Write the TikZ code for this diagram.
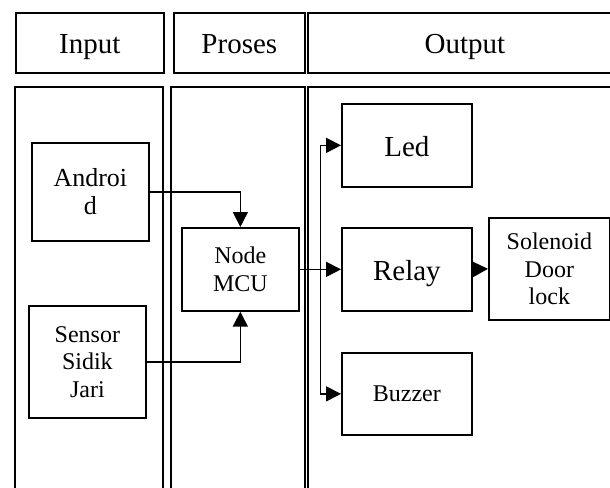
\documentclass[tikz,border=0pt]{standalone}
\usepackage{fontspec}
\setmainfont{Liberation Serif}
\usetikzlibrary{arrows.meta,calc}
\begin{document}
\begin{tikzpicture}[x=1pt,y=-1pt,
  box/.style={draw, line width=1.7pt, inner sep=0pt, anchor=north west, align=center},
  big/.style={font=\fontsize{29}{33}\selectfont, text height=22pt, text depth=0pt},
  mid/.style={font=\fontsize{26}{28.5}\selectfont},
  small/.style={font=\fontsize{24}{27.5}\selectfont},
  link/.style={line width=1.7pt, -{Triangle[length=15pt,width=15pt]}}]
\useasboundingbox (0,0) rectangle (610,487);
\clip (0,0) rectangle (610,487);

% column headings
\node[box,big,minimum width=148,minimum height=60] (hin)  at (15,12)  {Input};
\node[box,big,minimum width=131,minimum height=60] (hpr)  at (173,12) {Proses};
\node[box,big,minimum width=314,minimum height=60] (hout) at (307,12) {Output};

% column frames
\node[box,minimum width=148,minimum height=420] (cin)  at (14,86)  {};
\node[box,minimum width=134,minimum height=420] (cpr)  at (170,86) {};
\node[box,minimum width=314,minimum height=420] (cout) at (307,86) {};

% input blocks
\node[box,mid,minimum width=117,minimum height=98]    (android) at (31,142) {Androi\\d};
\node[box,small,minimum width=117,minimum height=112] (sensor)  at (28,305) {Sensor\\Sidik\\Jari};

% process block
\node[box,small,minimum width=117,minimum height=83] (mcu) at (181,227) {Node\\MCU};

% output blocks
\node[box,big,minimum width=130,minimum height=83]   (led)    at (341,103) {Led};
\node[box,big,minimum width=130,minimum height=83]   (relay)  at (341,227) {Relay};
\node[box,small,minimum width=130,minimum height=82] (buzzer) at (341,352) {Buzzer};
\node[box,small,minimum width=121,minimum height=102] (sol)   at (488,217) {Solenoid\\Door\\lock};

% connections
\draw[link] (android.east) -| (mcu.north);
\draw[link] (sensor.east) -| (mcu.south);
\draw[link] (mcu.east) -- (relay.west);
\coordinate (bus) at ($(mcu.east)!0.5!(relay.west)$);
\draw[link] (bus) |- (led.west);
\draw[link] (bus) |- (buzzer.west);
\draw[link] (relay.east) -- (sol.west);
\end{tikzpicture}
\end{document}
